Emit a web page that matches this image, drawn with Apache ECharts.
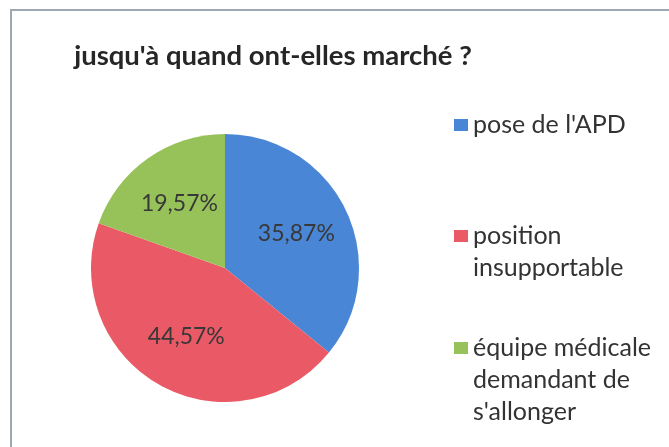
<!DOCTYPE html>
<html>
<head>
<meta charset="utf-8">
<script src="https://cdn.jsdelivr.net/npm/echarts@6/dist/echarts.min.js"></script>
<style>
  html, body { margin: 0; padding: 0; background: #ffffff; }
  #chart { width: 669px; height: 447px; }
</style>
</head>
<body>
<div id="chart"></div>
<script>
// Share of women by the moment they stopped walking
const chartTitle = "jusqu'à quand ont-elles marché ?";
const categories = ["pose de l'APD", "position insupportable", "équipe médicale demandant de s'allonger"];
const legendLines = [["pose de l'APD"], ["position", "insupportable"], ["équipe médicale", "demandant de", "s'allonger"]];
const shares = [35.87, 44.57, 19.57];
const colors = ["#4a86d6", "#ea5a66", "#97c25a"];
const legendIconY = [125, 236, 348];

const FONT = "Lato, 'Open Sans', sans-serif";
const LINE = 32;

const pieData = categories.map((name, i) => ({ name, value: shares[i] }));

// Legend text is vertically centred on its swatch; blank lines in front of a
// wrapped label keep the swatch level with the label's first line.
function legendText(name) {
  const lines = legendLines[categories.indexOf(name)];
  const pad = new Array(lines.length - 1).fill(' ');
  return pad.concat(lines).join('\n');
}

// one legend block per entry so each can sit at its own height
const legends = categories.map((name, i) => ({
  orient: 'vertical',
  left: 454,
  top: legendIconY[i] - (2 * legendLines[i].length - 1) * LINE / 2,
  padding: 0,
  itemWidth: 14,
  itemHeight: 12,
  itemGap: 0,
  icon: 'rect',
  selectedMode: false,
  data: [name],
  formatter: legendText,
  textStyle: { fontFamily: FONT, fontSize: 25, color: '#333333', lineHeight: LINE }
}));

const chart = echarts.init(document.getElementById('chart'), null, { renderer: 'canvas' });
chart.setOption({
  backgroundColor: '#ffffff',
  animation: false,
  color: colors,
  title: {
    text: chartTitle,
    left: 268,
    top: 37,
    textAlign: 'center',
    textStyle: { fontFamily: FONT, fontWeight: 'bold', fontSize: 27.5, color: '#262626' }
  },
  legend: legends,
  graphic: [{
    type: 'rect',
    shape: { x: 11, y: 10, width: 700, height: 500 },
    style: { fill: 'none', stroke: '#9ea8b2', lineWidth: 2 },
    silent: true
  }],
  series: [
    {
      type: 'pie',
      center: [225, 268],
      radius: [0, 134],
      startAngle: 90,
      clockwise: true,
      data: pieData,
      label: { show: false },
      labelLine: { show: false },
      itemStyle: { borderWidth: 0 },
      emphasis: { disabled: true }
    },
    {
      // label ring: same slices, no fill, labels sit further out than half radius
      type: 'pie',
      center: [225, 268],
      radius: [0, 152],
      startAngle: 90,
      clockwise: true,
      silent: true,
      data: pieData,
      itemStyle: { color: 'transparent', borderWidth: 0 },
      label: {
        show: true,
        position: 'inside',
        formatter: p => p.value.toFixed(2).replace('.', ',') + '%',
        fontFamily: FONT,
        fontSize: 23,
        color: '#383838'
      },
      labelLine: { show: false },
      emphasis: { disabled: true }
    }
  ]
});
</script>
</body>
</html>
